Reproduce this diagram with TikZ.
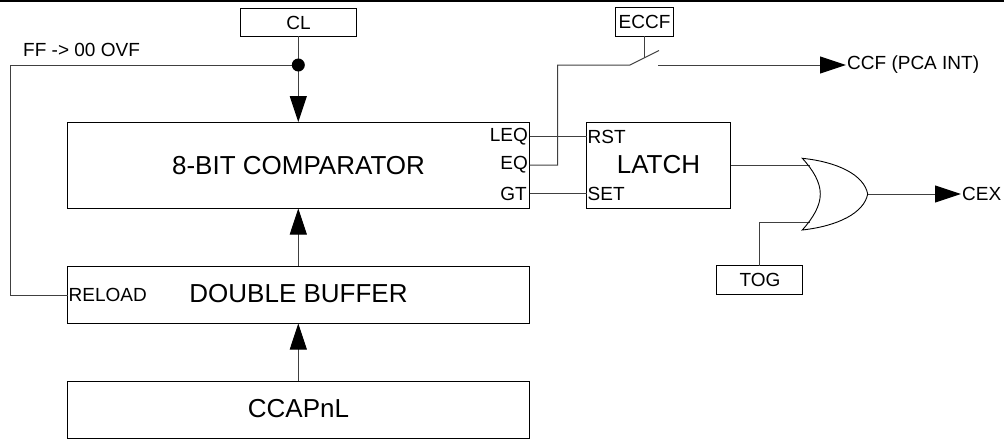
\documentclass[tikz,border=0pt]{standalone}
\usepackage{fontspec}
\setmainfont{Liberation Sans}
\usetikzlibrary{arrows.meta}
\newcommand{\fs}[1]{\fontsize{#1}{#1}\selectfont}
\tikzset{
  x=1pt,y=-1pt,
  blk/.style={draw=black,line width=1pt,inner sep=0pt,outer sep=0pt,anchor=north west,fill=white},
  big/.style={inner sep=0pt,font=\fs{26}},
  mid/.style={inner sep=0pt,font=\fs{19}},
  wire/.style={draw=black!75,line width=1pt},
  flow/.style={wire,-{Triangle[length=26pt,width=17pt,black]}},
  dot/.style={circle,fill=black,inner sep=0pt,minimum size=13pt}
}
\begin{document}
\begin{tikzpicture}
\useasboundingbox (0,0) rectangle (1004,439);
\draw[black,line width=2pt] (0,1) -- (1004,1);
% blocks
\node[blk,minimum width=116pt,minimum height=28pt] (cl) at (240.5,8) {};
\node[mid] (cltext) at (298.5,22.5) {CL};
\node[blk,minimum width=462pt,minimum height=86pt] (cmp) at (67.5,122) {};
\node[blk,minimum width=462pt,minimum height=57pt] (dbl) at (67.5,266) {};
\node[blk,minimum width=462pt,minimum height=57pt] (ccap) at (67.5,381) {};
\node[blk,minimum width=144pt,minimum height=86pt] (latch) at (586.7,122) {};
\node[blk,minimum width=57.5pt,minimum height=28.5pt] (eccf) at (615.5,7.5) {};
\node[blk,minimum width=86.4pt,minimum height=28.6pt] (tog) at (716.3,265.7) {};
% coordinates
\coordinate (dotc) at (298.3,65);
\coordinate (ovfa) at (10,65);
\coordinate (ovfb) at (10,295);
\coordinate (relin) at (67.5,295);
\coordinate (clin) at (298.3,122);
\coordinate (clout) at (298.3,36);
\coordinate (cmpb) at (298.3,208.5);
\coordinate (dblt) at (298.3,266);
\coordinate (dblb) at (298.3,323.5);
\coordinate (ccapt) at (298.3,381);
\coordinate (leqo) at (529.5,136.5);
\coordinate (rsti) at (586.7,136.5);
\coordinate (eqo) at (529.5,165);
\coordinate (gto) at (529.5,193.5);
\coordinate (seti) at (586.7,193.5);
\coordinate (bend1) at (557.5,165);
\coordinate (bend2) at (557.5,65);
\coordinate (swa) at (630,65);
\coordinate (swb) at (659,50.5);
\coordinate (swc) at (658,65);
\coordinate (ccfend) at (846,65);
\coordinate (eccfb) at (644.5,36);
\coordinate (eccfs) at (644.5,57.7);
\coordinate (lato) at (730.7,165);
\coordinate (orin) at (810,165);
\coordinate (orinb) at (810,222.7);
\coordinate (togb) at (759.3,222.7);
\coordinate (togt) at (759.3,265.7);
\coordinate (orout) at (867.7,194);
\coordinate (cexend) at (961,194);
% connectors
\draw[wire] (clout) -- (dotc);
\draw[flow] (dotc) -- (clin);
\draw[wire] (dotc) -- (ovfa) -- (ovfb) -- (relin);
\draw[flow] (dblt) -- (cmpb);
\draw[flow] (ccapt) -- (dblb);
\draw[wire] (leqo) -- (rsti);
\draw[wire] (gto) -- (seti);
\draw[wire] (eqo) -- (bend1) -- (bend2) -- (swa) -- (swb);
\draw[flow] (swc) -- (ccfend);
\draw[wire] (eccfb) -- (eccfs);
\draw[wire] (lato) -- (orin);
\draw[wire] (togt) -- (togb) -- (orinb);
\draw[flow] (orout) -- (cexend);
% OR gate
\draw[black,line width=0.9pt] (802.3,158.3) .. controls (813,170) and (820.3,182) .. (820.3,194)
  .. controls (820.3,206) and (813,218) .. (802.3,230)
  .. controls (838,226) and (864,213) .. (orout)
  .. controls (864,175) and (838,162) .. cycle;
\node[dot] (junction) at (dotc) {};
% text
\node[mid,anchor=west] (ovft) at (23,50) {FF -> 00 OVF};
\node[big] (cmpt) at (298.5,165.5) {8-BIT COMPARATOR};
\node[mid,anchor=east] (leqt) at (528,136.5) {LEQ};
\node[mid,anchor=east] (eqt) at (528,165) {EQ};
\node[mid,anchor=east] (gtt) at (527,193.5) {GT};
\node[mid,anchor=west] (rstt) at (587.5,136.5) {RST};
\node[mid,anchor=west] (sett) at (587.5,193.5) {SET};
\node[big] (latt) at (658.5,165) {LATCH};
\node[mid] (eccft) at (644.5,22) {ECCF};
\node[mid] (togtxt) at (760,279.5) {TOG};
\node[mid,anchor=west] (ccft) at (847,64.5) {CCF (PCA INT)};
\node[mid,anchor=west] (cext) at (962,194) {CEX};
\node[mid,anchor=west] (relt) at (68.5,294.5) {RELOAD};
\node[big] (dblt2) at (298.5,293.5) {DOUBLE BUFFER};
\node[big] (ccapt2) at (298.5,408.5) {CCAPnL};
\end{tikzpicture}
\end{document}
